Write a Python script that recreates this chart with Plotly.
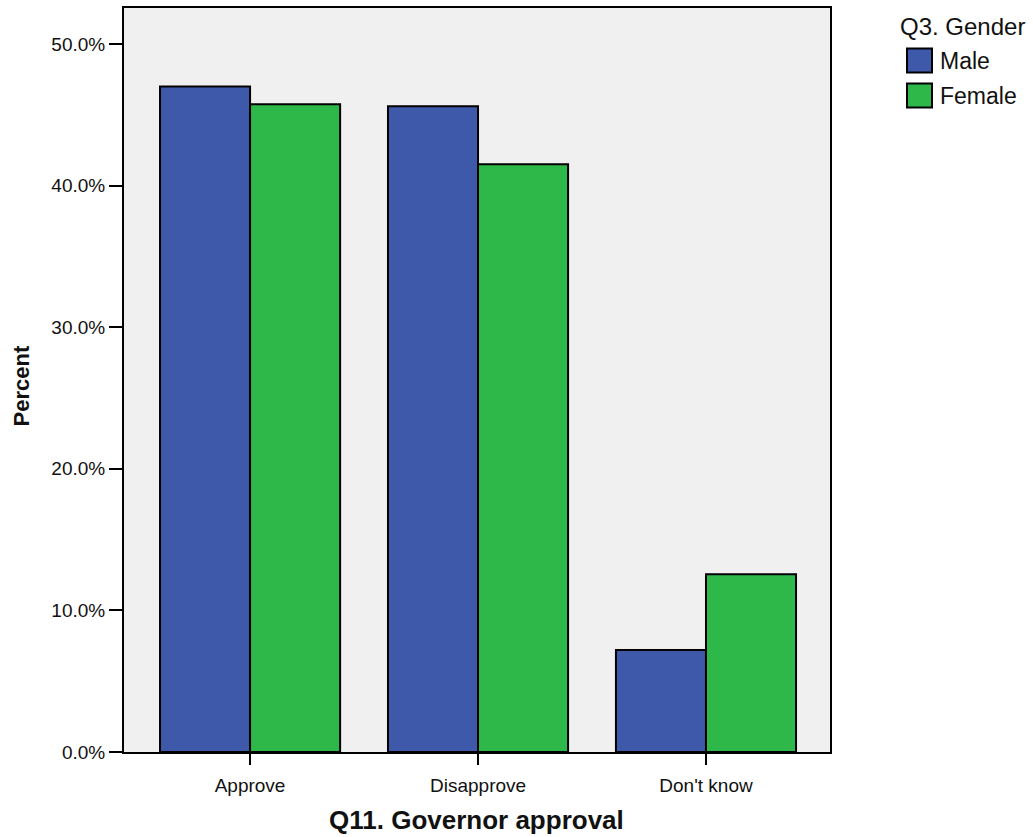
import plotly.graph_objects as go

categories = ["Approve", "Disapprove", "Don't know"]
male = [47.0, 45.6, 7.2]
female = [45.75, 41.5, 12.55]
series_names = ["Male", "Female"]
legend_title = "Q3. Gender"
x_title = "Q11. Governor approval"
y_title = "Percent"
y_ticks = [0, 10, 20, 30, 40, 50]
y_tick_labels = [f"{v:.1f}%" for v in y_ticks]

W, H = 1033, 837
L, R, T, B = 124, 830, 7.5, 751.7
colors = ["#3E58AA", "#2FB84A"]
FONT = "Liberation Sans, Arial, sans-serif"

fig = go.Figure()
for name, vals, col in zip(series_names, [male, female], colors):
    fig.add_trace(go.Bar(
        x=categories, y=vals, name=name,
        marker=dict(color=col, line=dict(color="black", width=2)),
        showlegend=False, hoverinfo="skip"))

def px_x(p):
    return (p - L) / (R - L)

def px_y(p):
    return (B - p) / (B - T)

shapes = []
annotations = []
annotations.append(dict(text=legend_title, x=px_x(898), y=px_y(26), xref="paper", yref="paper",
                        xanchor="left", yanchor="middle", showarrow=False,
                        font=dict(family=FONT, size=24, color="#111")))
sw_tops = [48, 83]
for name, col, top in zip(series_names, colors, sw_tops):
    shapes.append(dict(type="rect", xref="paper", yref="paper",
                       x0=px_x(907), x1=px_x(932), y0=px_y(top + 24), y1=px_y(top),
                       fillcolor=col, line=dict(color="black", width=2)))
    annotations.append(dict(text=name, x=px_x(938), y=px_y(top + 13), xref="paper", yref="paper",
                            xanchor="left", yanchor="middle", showarrow=False,
                            font=dict(family=FONT, size=23, color="#111")))

annotations.append(dict(text=f"<b>{x_title}</b>", x=px_x(476), y=px_y(820), xref="paper", yref="paper",
                        xanchor="center", yanchor="middle", showarrow=False,
                        font=dict(family=FONT, size=26, color="#111")))
annotations.append(dict(text=f"<b>{y_title}</b>", x=px_x(21), y=px_y(386), xref="paper", yref="paper",
                        xanchor="center", yanchor="middle", showarrow=False, textangle=-90,
                        font=dict(family=FONT, size=22, color="#111")))

fig.update_layout(
    width=W, height=H,
    margin=dict(l=L, r=W - R, t=T, b=H - B, autoexpand=False),
    paper_bgcolor="white", plot_bgcolor="#F0F0F0",
    barmode="group", bargap=0.21, bargroupgap=0,
    font=dict(family=FONT, size=18, color="#111"),
    shapes=shapes, annotations=annotations,
)
fig.update_xaxes(
    type="category", range=[-0.553, 2.544], automargin=False,
    showline=True, mirror=True, linecolor="black", linewidth=2,
    ticks="outside", ticklen=11, tickwidth=2, tickcolor="black",
    tickfont=dict(size=19), showgrid=False, ticklabelstandoff=4,
)
fig.update_yaxes(
    range=[0, 52.54], tickvals=y_ticks, ticktext=y_tick_labels, automargin=False,
    showline=True, mirror=True, linecolor="black", linewidth=2,
    ticks="outside", ticklen=13, tickwidth=2, tickcolor="black",
    tickfont=dict(size=19), showgrid=False, zeroline=False,
)

fig.write_html("out.html", config={"displayModeBar": False},
               post_script="document.body.style.margin='0';document.body.style.overflow='hidden';")
